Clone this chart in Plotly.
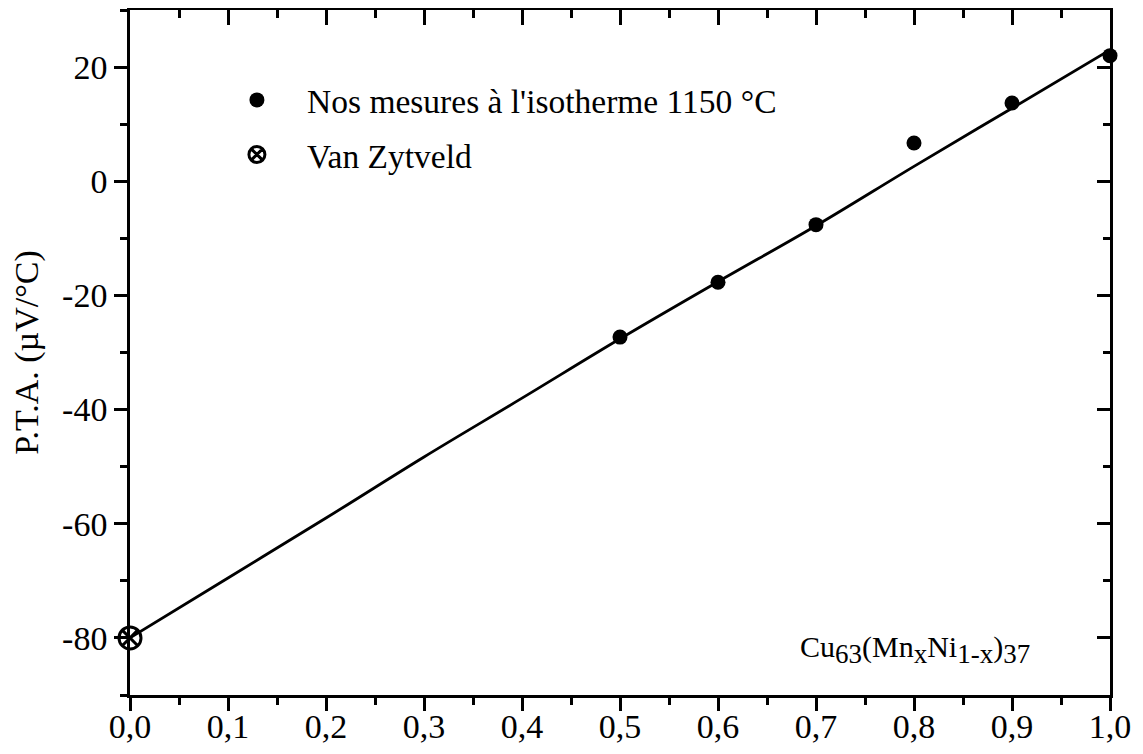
import plotly.graph_objects as go

# measured P.T.A. values (Cu63(MnxNi1-x)37, isotherme 1150 °C)
x_mes = [0.5, 0.6, 0.7, 0.8, 0.9, 1.0]
y_mes = [-27.3, -17.7, -7.6, 6.7, 13.7, 22.0]

# Van Zytveld point
x_vz = [0.0]
y_vz = [-80.0]

# fitted curve
x_fit = [0.0, 0.1, 0.2, 0.3, 0.4, 0.5, 0.6, 0.7, 0.8, 0.9, 1.0]
y_fit = [-80.0, -69.5, -59.0, -48.3, -38.0, -27.6, -17.6, -7.8, 2.6, 12.8, 23.0]

y_ticks = [-80, -60, -40, -20, 0, 20]
y_ticktext = ["-80", "-60", "-40", "-20", "0", "20"]
x_ticks = [0.0, 0.1, 0.2, 0.3, 0.4, 0.5, 0.6, 0.7, 0.8, 0.9, 1.0]
x_ticktext = ["0,0", "0,1", "0,2", "0,3", "0,4", "0,5", "0,6", "0,7", "0,8", "0,9", "1,0"]

serif = "Liberation Serif, Times New Roman, serif"
gap = "\u00a0\u00a0\u00a0"

fig = go.Figure()

fig.add_trace(go.Scatter(x=x_fit, y=y_fit, mode="lines",
                         line=dict(color="black", width=2.8, shape="spline"),
                         showlegend=False, hoverinfo="skip"))
fig.add_trace(go.Scatter(x=x_mes, y=y_mes, mode="markers", cliponaxis=False,
                         marker=dict(color="black", size=15, symbol="circle"),
                         name=gap + "Nos mesures à l'isotherme 1150 °C", legendgroup="a"))
fig.add_trace(go.Scatter(x=x_vz, y=y_vz, mode="markers", cliponaxis=False,
                         marker=dict(color="black", size=22, symbol="circle-x-open",
                                     line=dict(width=3, color="black")),
                         name=gap + "Van Zytveld", legendgroup="b"))
# dummy trace so the mirrored (top/right) axes get drawn
fig.add_trace(go.Scatter(x=x_vz, y=y_vz, xaxis="x2", yaxis="y2", mode="markers",
                         marker=dict(opacity=0), showlegend=False, hoverinfo="skip"))

axis_common = dict(showgrid=False, zeroline=False, showline=True, automargin=False,
                   linecolor="black", linewidth=2.5, tickcolor="black",
                   tickwidth=2.5, tickfont=dict(family=serif, size=34, color="black"))

# page body has an 8px margin, so the figure is sized to fit inside the window
fig.update_layout(
    width=1127, height=738,
    paper_bgcolor="white", plot_bgcolor="white",
    margin=dict(l=122, r=25, t=2, b=51),
    font=dict(family=serif, color="black"),
    xaxis=dict(range=[0, 1], tickvals=x_ticks, ticktext=x_ticktext,
               ticks="outside", ticklen=13, mirror=True, ticklabelstandoff=-14,
               minor=dict(dtick=0.05, tick0=0, ticks="outside", ticklen=7,
                          tickwidth=2.5, tickcolor="black"),
               **axis_common),
    yaxis=dict(range=[-90, 30], tickvals=y_ticks, ticktext=y_ticktext,
               ticks="outside", ticklen=13, mirror=True,
               minor=dict(dtick=10, tick0=-90, ticks="outside", ticklen=7,
                          tickwidth=2.5, tickcolor="black"),
               title=dict(text="P.T.A. (µV/°C)", font=dict(family=serif, size=34),
                          standoff=18),
               **axis_common),
    xaxis2=dict(overlaying="x", side="top", matches="x", range=[0, 1],
                tickvals=x_ticks, showticklabels=False, ticks="inside", ticklen=15,
                minor=dict(dtick=0.05, tick0=0, ticks="inside", ticklen=8,
                           tickwidth=2.5, tickcolor="black"),
                **axis_common),
    yaxis2=dict(overlaying="y", side="right", matches="y", range=[-90, 30],
                tickvals=y_ticks, showticklabels=False, ticks="inside", ticklen=13,
                minor=dict(dtick=10, tick0=-90, ticks="inside", ticklen=7,
                           tickwidth=2.5, tickcolor="black"),
                **axis_common),
    legend=dict(x=0.104, y=0.91, xanchor="left", yanchor="top",
                bgcolor="rgba(0,0,0,0)", borderwidth=0,
                font=dict(family=serif, size=33.5, color="black"),
                itemwidth=40, tracegroupgap=8, traceorder="grouped"),
    annotations=[dict(x=0.92, y=-82, xref="x", yref="y", xanchor="right", yanchor="middle",
                      text="Cu<sub><span style='font-size:27px'>63</span></sub>(Mn"
                           "<sub><span style='font-size:27px'>x</span></sub>Ni"
                           "<sub><span style='font-size:27px'>1-x</span></sub>)"
                           "<sub><span style='font-size:27px'>37</span></sub>",
                      showarrow=False, font=dict(family=serif, size=30, color="black"))],
)

fig.write_html("out.html")
